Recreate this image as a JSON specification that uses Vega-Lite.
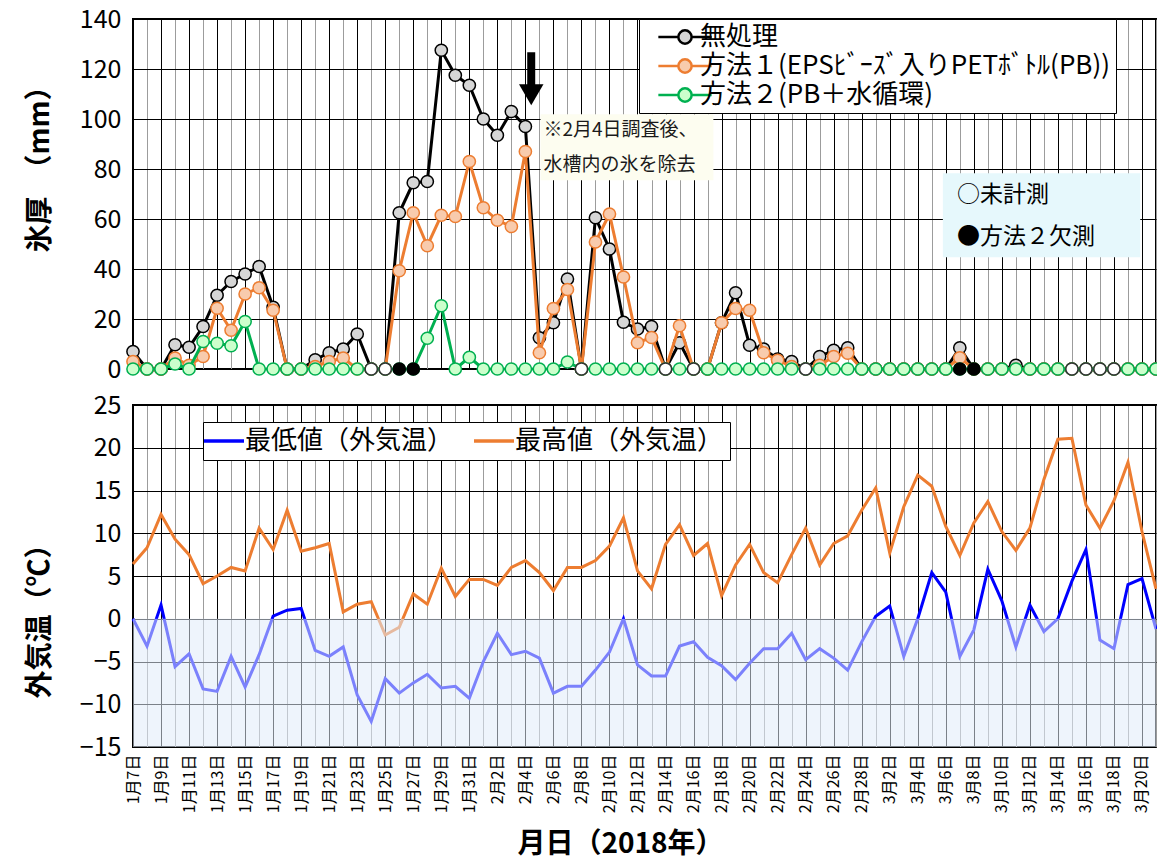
{
  "$schema": "https://vega.github.io/schema/vega-lite/v6.json",
  "background": "white",
  "padding": {"left": 24, "top": 6, "right": 2, "bottom": 2},
  "spacing": 36,
  "bounds": "flush",
  "datasets": {
    "d": [
      {"d":"2018-01-07","none":7,"m1":3,"m2":0,"tmin":0,"tmax":6.4},
      {"d":"2018-01-08","none":0,"m1":0,"m2":0,"tmin":-3.2,"tmax":8.3},
      {"d":"2018-01-09","none":0,"m1":0,"m2":0,"tmin":1.6,"tmax":12.2},
      {"d":"2018-01-10","none":9.7,"m1":4.4,"m2":2,"tmin":-5.6,"tmax":9.3},
      {"d":"2018-01-11","none":8.7,"m1":1.5,"m2":0,"tmin":-4.1,"tmax":7.5},
      {"d":"2018-01-12","none":17,"m1":5,"m2":11,"tmin":-8.2,"tmax":4.1},
      {"d":"2018-01-13","none":29.5,"m1":24.3,"m2":10.3,"tmin":-8.5,"tmax":5},
      {"d":"2018-01-14","none":35,"m1":15.5,"m2":9.3,"tmin":-4.4,"tmax":6},
      {"d":"2018-01-15","none":38,"m1":30,"m2":19,"tmin":-8,"tmax":5.6},
      {"d":"2018-01-16","none":41,"m1":32.5,"m2":0,"tmin":-4.2,"tmax":10.6},
      {"d":"2018-01-17","none":24.7,"m1":23.5,"m2":0,"tmin":0.3,"tmax":8.1},
      {"d":"2018-01-18","none":0,"m1":0,"m2":0,"tmin":1,"tmax":12.7},
      {"d":"2018-01-19","none":0,"m1":0,"m2":0,"tmin":1.2,"tmax":7.9},
      {"d":"2018-01-20","none":3.7,"m1":1,"m2":0,"tmin":-3.7,"tmax":8.3},
      {"d":"2018-01-21","none":6.5,"m1":3,"m2":0,"tmin":-4.4,"tmax":8.8},
      {"d":"2018-01-22","none":8,"m1":4.4,"m2":0,"tmin":-3.3,"tmax":0.8},
      {"d":"2018-01-23","none":14,"m1":0,"m2":0,"tmin":-8.9,"tmax":1.7},
      {"d":"2018-01-24","none":0,"m1":0,"m2":0,"tmin":-12,"tmax":2,"st":"未計測"},
      {"d":"2018-01-25","none":0,"m1":0,"m2":0,"tmin":-7,"tmax":-1.9,"st":"未計測"},
      {"d":"2018-01-26","none":62.5,"m1":39.3,"m2":0,"tmin":-8.7,"tmax":-1,"st":"欠測"},
      {"d":"2018-01-27","none":74.5,"m1":62.5,"m2":0,"tmin":-7.5,"tmax":2.9,"st":"欠測"},
      {"d":"2018-01-28","none":75,"m1":49.3,"m2":12.3,"tmin":-6.5,"tmax":1.7},
      {"d":"2018-01-29","none":127.5,"m1":61.5,"m2":25.3,"tmin":-8.1,"tmax":5.9},
      {"d":"2018-01-30","none":117.5,"m1":61,"m2":0,"tmin":-7.9,"tmax":2.6},
      {"d":"2018-01-31","none":113.5,"m1":83,"m2":4.7,"tmin":-9.3,"tmax":4.6},
      {"d":"2018-02-01","none":100,"m1":64.5,"m2":0,"tmin":-5,"tmax":4.6},
      {"d":"2018-02-02","none":93.5,"m1":59.5,"m2":0,"tmin":-1.7,"tmax":3.9},
      {"d":"2018-02-03","none":103,"m1":57,"m2":0,"tmin":-4.2,"tmax":6},
      {"d":"2018-02-04","none":97,"m1":87,"m2":0,"tmin":-3.8,"tmax":6.8},
      {"d":"2018-02-05","none":12.5,"m1":6.5,"m2":0,"tmin":-4.6,"tmax":5.4},
      {"d":"2018-02-06","none":18.5,"m1":24.2,"m2":0,"tmin":-8.7,"tmax":3.3},
      {"d":"2018-02-07","none":36,"m1":31.8,"m2":2.8,"tmin":-7.9,"tmax":6},
      {"d":"2018-02-08","none":0,"m1":0,"m2":0,"tmin":-7.9,"tmax":6,"st":"未計測"},
      {"d":"2018-02-09","none":60.5,"m1":50.8,"m2":0,"tmin":-6,"tmax":6.8},
      {"d":"2018-02-10","none":48,"m1":62,"m2":0,"tmin":-3.9,"tmax":8.5},
      {"d":"2018-02-11","none":18.7,"m1":36.8,"m2":0,"tmin":0,"tmax":11.8},
      {"d":"2018-02-12","none":16,"m1":10.5,"m2":0,"tmin":-5.4,"tmax":5.6},
      {"d":"2018-02-13","none":17,"m1":12.6,"m2":0,"tmin":-6.7,"tmax":3.5},
      {"d":"2018-02-14","none":0,"m1":0,"m2":0,"tmin":-6.7,"tmax":8.7,"st":"未計測"},
      {"d":"2018-02-15","none":10.5,"m1":17.3,"m2":0,"tmin":-3.2,"tmax":11},
      {"d":"2018-02-16","none":0,"m1":0,"m2":0,"tmin":-2.7,"tmax":7.4,"st":"未計測"},
      {"d":"2018-02-17","none":0,"m1":0,"m2":0,"tmin":-4.5,"tmax":8.8},
      {"d":"2018-02-18","none":18.5,"m1":18.5,"m2":0,"tmin":-5.5,"tmax":2.7},
      {"d":"2018-02-19","none":30.5,"m1":24.2,"m2":0,"tmin":-7.1,"tmax":6.3},
      {"d":"2018-02-20","none":9.5,"m1":23.5,"m2":0,"tmin":-5.2,"tmax":8.7},
      {"d":"2018-02-21","none":8,"m1":6.5,"m2":0,"tmin":-3.5,"tmax":5.4},
      {"d":"2018-02-22","none":4,"m1":3.5,"m2":0,"tmin":-3.5,"tmax":4.2},
      {"d":"2018-02-23","none":3,"m1":1,"m2":0,"tmin":-1.7,"tmax":7.5},
      {"d":"2018-02-24","none":0,"m1":0,"m2":0,"tmin":-4.8,"tmax":10.6,"st":"未計測"},
      {"d":"2018-02-25","none":5,"m1":1.5,"m2":0,"tmin":-3.5,"tmax":6.3},
      {"d":"2018-02-26","none":7.5,"m1":5,"m2":0,"tmin":-4.6,"tmax":8.8},
      {"d":"2018-02-27","none":8.5,"m1":6.3,"m2":0,"tmin":-6,"tmax":9.7},
      {"d":"2018-02-28","none":0,"m1":0,"m2":0,"tmin":-2.7,"tmax":12.7},
      {"d":"2018-03-01","none":0,"m1":0,"m2":0,"tmin":0.3,"tmax":15.3},
      {"d":"2018-03-02","none":0,"m1":0,"m2":0,"tmin":1.5,"tmax":7.7},
      {"d":"2018-03-03","none":0,"m1":0,"m2":0,"tmin":-4.4,"tmax":13.1},
      {"d":"2018-03-04","none":0,"m1":0,"m2":0,"tmin":0,"tmax":16.8},
      {"d":"2018-03-05","none":0,"m1":0,"m2":0,"tmin":5.4,"tmax":15.5},
      {"d":"2018-03-06","none":0,"m1":0,"m2":0,"tmin":3.1,"tmax":10.8},
      {"d":"2018-03-07","none":8.5,"m1":4.5,"m2":0,"tmin":-4.4,"tmax":7.4,"st":"欠測"},
      {"d":"2018-03-08","none":0,"m1":0,"m2":0,"tmin":-1.3,"tmax":11.2,"st":"欠測"},
      {"d":"2018-03-09","none":0,"m1":0,"m2":0,"tmin":5.8,"tmax":13.7},
      {"d":"2018-03-10","none":0,"m1":0,"m2":0,"tmin":2.1,"tmax":10.2},
      {"d":"2018-03-11","none":1.5,"m1":0,"m2":0,"tmin":-3.3,"tmax":8},
      {"d":"2018-03-12","none":0,"m1":0,"m2":0,"tmin":1.6,"tmax":10.6},
      {"d":"2018-03-13","none":0,"m1":0,"m2":0,"tmin":-1.5,"tmax":16.3},
      {"d":"2018-03-14","none":0,"m1":0,"m2":0,"tmin":0,"tmax":21},
      {"d":"2018-03-15","none":0,"m1":0,"m2":0,"tmin":4.4,"tmax":21.1,"st":"未計測"},
      {"d":"2018-03-16","none":0,"m1":0,"m2":0,"tmin":8.1,"tmax":13.3,"st":"未計測"},
      {"d":"2018-03-17","none":0,"m1":0,"m2":0,"tmin":-2.5,"tmax":10.6,"st":"未計測"},
      {"d":"2018-03-18","none":0,"m1":0,"m2":0,"tmin":-3.5,"tmax":13.8,"st":"未計測"},
      {"d":"2018-03-19","none":0,"m1":0,"m2":0,"tmin":4,"tmax":18.3},
      {"d":"2018-03-20","none":0,"m1":0,"m2":0,"tmin":4.7,"tmax":10.2},
      {"d":"2018-03-21","none":0,"m1":0,"m2":0,"tmin":-1.2,"tmax":3.5}
    ]
  },
  "vconcat": [
    {
      "width": 1023,
      "height": 350,
      "data": {"name": "d"},
      "layer": [
        {
          "data": {"values": [{}]},
          "mark": {"type": "rect", "fill": "#fdfdf0"},
          "encoding": {
            "x": {
              "datum": {"year": 2018, "month": 2, "date": 5, "hours": 2, "utc": true},
              "type": "temporal",
              "scale": {"type": "utc", "domain": [{"year": 2018, "month": 1, "date": 7, "utc": true}, {"year": 2018, "month": 3, "date": 21, "utc": true}]},
              "axis": {
                "title": null, "labels": false, "ticks": false, "domain": false, "grid": true,
                "tickCount": {"interval": "day", "step": 1},
                "gridColor": {"condition": {"test": "round((datum.value - utc(2018,0,7))/864e5) % 2 === 0", "value": "#000000"}, "value": "#9c9c9c"},
                "gridWidth": 1
              }
            },
            "x2": {"datum": {"year": 2018, "month": 2, "date": 17, "hours": 10, "utc": true}},
            "y": {
              "datum": 101.9, "type": "quantitative",
              "scale": {"domain": [0, 140], "nice": false, "zero": false},
              "axis": {
                "title": "氷厚　（mm）", "values": [0, 20, 40, 60, 80, 100, 120, 140],
                "grid": true, "gridColor": "#000000", "gridWidth": 1, "ticks": false, "domain": false,
                "labelFontSize": 25, "labelPadding": 12,
                "titleFontSize": 28, "titleFontWeight": "bold", "titleX": -79, "titleY": 143
              }
            },
            "y2": {"datum": 75.5}
          }
        },
        {
          "data": {"values": [{}]},
          "mark": {"type": "rect", "fill": "#e6f8fc"},
          "encoding": {
            "x": {"datum": {"year": 2018, "month": 3, "date": 5, "hours": 19, "utc": true}, "type": "temporal", "scale": {"type": "utc"}},
            "x2": {"datum": {"year": 2018, "month": 3, "date": 19, "hours": 21, "utc": true}},
            "y": {"datum": 78.3, "type": "quantitative"},
            "y2": {"datum": 44.7}
          }
        },
        {
          "data": {"values": [{}]},
          "mark": {"type": "text", "align": "left", "baseline": "middle", "fontSize": 19, "color": "#1a1a1a"},
          "encoding": {
            "x": {"datum": {"year": 2018, "month": 2, "date": 5, "hours": 7, "utc": true}, "type": "temporal", "scale": {"type": "utc"}},
            "y": {"datum": 95.5, "type": "quantitative"},
            "text": {"value": "※2月4日調査後、"}
          }
        },
        {
          "data": {"values": [{}]},
          "mark": {"type": "text", "align": "left", "baseline": "middle", "fontSize": 19, "color": "#1a1a1a"},
          "encoding": {
            "x": {"datum": {"year": 2018, "month": 2, "date": 5, "hours": 7, "utc": true}, "type": "temporal", "scale": {"type": "utc"}},
            "y": {"datum": 81.5, "type": "quantitative"},
            "text": {"value": "水槽内の氷を除去"}
          }
        },
        {
          "data": {"values": [{}]},
          "mark": {"type": "text", "align": "left", "baseline": "middle", "fontSize": 23, "color": "#000000"},
          "encoding": {
            "x": {"datum": {"year": 2018, "month": 3, "date": 6, "hours": 19, "utc": true}, "type": "temporal", "scale": {"type": "utc"}},
            "y": {"datum": 69.5, "type": "quantitative"},
            "text": {"value": "○未計測"}
          }
        },
        {
          "data": {"values": [{}]},
          "mark": {"type": "text", "align": "left", "baseline": "middle", "fontSize": 23, "color": "#000000"},
          "encoding": {
            "x": {"datum": {"year": 2018, "month": 3, "date": 6, "hours": 19, "utc": true}, "type": "temporal", "scale": {"type": "utc"}},
            "y": {"datum": 53, "type": "quantitative"},
            "text": {"value": "●方法２欠測"}
          }
        },
        {
          "data": {"values": [{}]},
          "mark": {"type": "rule", "strokeWidth": 8, "color": "#000000"},
          "encoding": {
            "x": {"datum": {"year": 2018, "month": 2, "date": 4, "hours": 10, "utc": true}, "type": "temporal", "scale": {"type": "utc"}},
            "y": {"datum": 126.7, "type": "quantitative"},
            "y2": {"datum": 113.5}
          }
        },
        {
          "data": {"values": [{}]},
          "mark": {"type": "point", "shape": "triangle-down", "filled": true, "size": 600, "color": "#000000", "opacity": 1},
          "encoding": {
            "x": {"datum": {"year": 2018, "month": 2, "date": 4, "hours": 10, "utc": true}, "type": "temporal", "scale": {"type": "utc"}},
            "y": {"datum": 109.7, "type": "quantitative"}
          }
        },
        {
          "mark": {"type": "line", "strokeWidth": 3},
          "encoding": {
            "x": {"field": "d", "type": "temporal", "scale": {"type": "utc"}},
            "y": {"field": "none", "type": "quantitative"},
            "stroke": {"datum": "none", "type": "nominal"}
          }
        },
        {
          "mark": {"type": "point", "shape": "circle", "filled": true, "size": 150, "strokeWidth": 1.5, "opacity": 1},
          "encoding": {
            "x": {"field": "d", "type": "temporal", "scale": {"type": "utc"}},
            "y": {"field": "none", "type": "quantitative"},
            "fill": {
              "datum": "none", "type": "nominal",
              "scale": {"domain": ["none", "m1", "m2"], "range": ["#d6d6d6", "#f8cbad", "#ccffcc"]},
              "legend": {
                "orient": "none", "legendX": 506, "legendY": 0, "title": null,
                "symbolType": "M-5.33,0L-1.33,0M1.33,0L5.33,0M1.33,0C1.33,0.735,0.735,1.33,0,1.33C-0.735,1.33,-1.33,0.735,-1.33,0C-1.33,-0.735,-0.735,-1.33,0,-1.33C0.735,-1.33,1.33,-0.735,1.33,0Z",
                "symbolSize": 100, "symbolStrokeWidth": 2.5, "symbolOffset": 28,
                "labelFontSize": 26, "labelOffset": 2, "rowPadding": 3, "padding": 5, "labelLimit": 700,
                "strokeColor": "#000000", "fillColor": "#ffffff",
                "labelExpr": "datum.label === 'none' ? '無処理' : datum.label === 'm1' ? '方法１(EPSﾋﾞｰｽﾞ入りPETﾎﾞﾄﾙ(PB))　 ' : '方法２(PB＋水循環)'",
                "encode": {"symbols": {"fill": {"value": {"expr": "datum.value === 'none' ? '#d6d6d6' : datum.value === 'm1' ? '#f8cbad' : '#ccffcc'"}}, "strokeWidth": {"value": 2.5}, "size": {"value": 100}}}
              }
            },
            "stroke": {
              "datum": "none", "type": "nominal",
              "scale": {"domain": ["none", "m1", "m2"], "range": ["#000000", "#ed7d31", "#00b050"]},
              "legend": {
                "orient": "none", "legendX": 506, "legendY": 0, "title": null,
                "symbolType": "M-5.33,0L-1.33,0M1.33,0L5.33,0M1.33,0C1.33,0.735,0.735,1.33,0,1.33C-0.735,1.33,-1.33,0.735,-1.33,0C-1.33,-0.735,-0.735,-1.33,0,-1.33C0.735,-1.33,1.33,-0.735,1.33,0Z",
                "symbolSize": 100, "symbolStrokeWidth": 2.5, "symbolOffset": 28,
                "labelFontSize": 26, "labelOffset": 2, "rowPadding": 3, "padding": 5, "labelLimit": 700,
                "strokeColor": "#000000", "fillColor": "#ffffff",
                "labelExpr": "datum.label === 'none' ? '無処理' : datum.label === 'm1' ? '方法１(EPSﾋﾞｰｽﾞ入りPETﾎﾞﾄﾙ(PB))　 ' : '方法２(PB＋水循環)'",
                "encode": {"symbols": {"fill": {"value": {"expr": "datum.value === 'none' ? '#d6d6d6' : datum.value === 'm1' ? '#f8cbad' : '#ccffcc'"}}, "strokeWidth": {"value": 2.5}, "size": {"value": 100}}}
              }
            }
          }
        },
        {
          "mark": {"type": "line", "strokeWidth": 3},
          "encoding": {
            "x": {"field": "d", "type": "temporal", "scale": {"type": "utc"}},
            "y": {"field": "m1", "type": "quantitative"},
            "stroke": {"datum": "m1", "type": "nominal"}
          }
        },
        {
          "mark": {"type": "point", "shape": "circle", "filled": true, "size": 150, "strokeWidth": 1.5, "opacity": 1},
          "encoding": {
            "x": {"field": "d", "type": "temporal", "scale": {"type": "utc"}},
            "y": {"field": "m1", "type": "quantitative"},
            "fill": {"datum": "m1", "type": "nominal"},
            "stroke": {"datum": "m1", "type": "nominal"}
          }
        },
        {
          "mark": {"type": "line", "strokeWidth": 3},
          "encoding": {
            "x": {"field": "d", "type": "temporal", "scale": {"type": "utc"}},
            "y": {"field": "m2", "type": "quantitative"},
            "stroke": {"datum": "m2", "type": "nominal"}
          }
        },
        {
          "mark": {"type": "point", "shape": "circle", "filled": true, "size": 150, "strokeWidth": 1.5, "opacity": 1},
          "encoding": {
            "x": {"field": "d", "type": "temporal", "scale": {"type": "utc"}},
            "y": {"field": "m2", "type": "quantitative"},
            "fill": {"datum": "m2", "type": "nominal"},
            "stroke": {"datum": "m2", "type": "nominal"}
          }
        },
        {
          "transform": [{"filter": "datum.st === '未計測'"}],
          "mark": {"type": "point", "shape": "circle", "filled": true, "size": 150, "strokeWidth": 1.5, "opacity": 1, "fill": "#ffffff", "stroke": "#333333"},
          "encoding": {
            "x": {"field": "d", "type": "temporal", "scale": {"type": "utc"}},
            "y": {"datum": 0, "type": "quantitative"}
          }
        },
        {
          "transform": [{"filter": "datum.st === '欠測'"}],
          "mark": {"type": "point", "shape": "circle", "filled": true, "size": 150, "strokeWidth": 1.5, "opacity": 1, "fill": "#000000", "stroke": "#000000"},
          "encoding": {
            "x": {"field": "d", "type": "temporal", "scale": {"type": "utc"}},
            "y": {"datum": 0, "type": "quantitative"}
          }
        }
      ]
    },
    {
      "width": 1023,
      "height": 342,
      "data": {"name": "d"},
      "layer": [
        {
          "mark": {"type": "line", "strokeWidth": 3},
          "encoding": {
            "x": {
              "field": "d", "type": "temporal",
              "scale": {"type": "utc", "domain": [{"year": 2018, "month": 1, "date": 7, "utc": true}, {"year": 2018, "month": 3, "date": 21, "utc": true}]},
              "axis": {
                "title": "月日（2018年）", "titleFontSize": 28, "titleFontWeight": "bold", "titlePadding": 18, "titleX": 487,
                "ticks": false, "domain": false, "grid": true,
                "tickCount": {"interval": "day", "step": 1},
                "gridColor": {"condition": {"test": "round((datum.value - utc(2018,0,7))/864e5) % 2 === 0", "value": "#000000"}, "value": "#9c9c9c"},
                "gridWidth": 1,
                "labelExpr": "round((datum.value - utc(2018,0,7))/864e5) % 2 === 0 ? (utcmonth(datum.value) + 1) + '月' + utcdate(datum.value) + '日' : ''",
                "labelAngle": -90, "labelFontSize": 16, "labelOverlap": false, "labelPadding": 7, "labelFlush": false, "labelBound": false
              }
            },
            "y": {
              "field": "tmin", "type": "quantitative",
              "scale": {"domain": [-15, 25], "nice": false, "zero": false},
              "axis": {
                "title": "外気温（℃）", "values": [-15, -10, -5, 0, 5, 10, 15, 20, 25],
                "grid": true, "gridColor": "#000000", "gridWidth": 1, "ticks": false, "domain": false,
                "labelFontSize": 25, "labelPadding": 12,
                "titleFontSize": 28, "titleFontWeight": "bold", "titleX": -79, "titleY": 209
              }
            },
            "color": {
              "datum": "tmin", "type": "nominal",
              "scale": {"domain": ["tmin", "tmax"], "range": ["#0000ff", "#ed7d31"]},
              "legend": {
                "orient": "none", "legendX": 70, "legendY": 403, "title": null, "direction": "horizontal",
                "symbolType": "M-2,0L2,0", "symbolSize": 400, "symbolStrokeWidth": 3.5, "symbolOffset": 2,
                "labelFontSize": 26, "labelOffset": 8, "columnPadding": 13, "padding": 6, "labelLimit": 400,
                "strokeColor": "#000000", "fillColor": "#ffffff",
                "labelExpr": "datum.label === 'tmin' ? '最低値（外気温）' : '最高値（外気温）'"
              }
            }
          }
        },
        {
          "mark": {"type": "line", "strokeWidth": 3},
          "encoding": {
            "x": {"field": "d", "type": "temporal", "scale": {"type": "utc"}},
            "y": {"field": "tmax", "type": "quantitative"},
            "color": {"datum": "tmax", "type": "nominal"}
          }
        },
        {
          "data": {"values": [{}]},
          "mark": {"type": "rect", "fill": "rgb(224,235,249)", "opacity": 0.55},
          "encoding": {
            "y": {"datum": -15, "type": "quantitative"},
            "y2": {"datum": 0}
          }
        }
      ]
    }
  ],
  "config": {
    "font": "Noto Sans CJK JP",
    "view": {"stroke": "#000000", "strokeWidth": 2},
    "axis": {"labelColor": "#000000", "titleColor": "#000000", "labelFont": "Noto Sans CJK JP", "titleFont": "Noto Sans CJK JP"},
    "legend": {"labelFont": "Noto Sans CJK JP", "labelColor": "#000000"},
    "text": {"font": "Noto Sans CJK JP"}
  }
}
